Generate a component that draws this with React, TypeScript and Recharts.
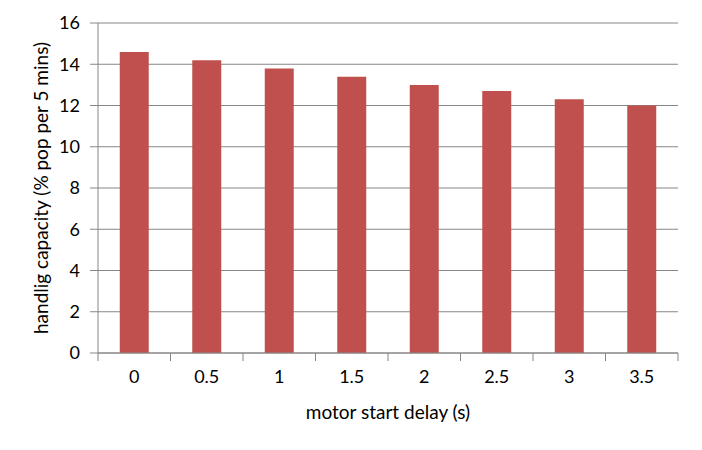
import { Bar, BarChart, CartesianGrid, XAxis, YAxis } from "recharts";

const delays = ["0", "0.5", "1", "1.5", "2", "2.5", "3", "3.5"];
const capacity = [14.6, 14.2, 13.8, 13.4, 13.0, 12.7, 12.3, 12.0];
const yTicks = [0, 2, 4, 6, 8, 10, 12, 14, 16];

const data = delays.map((d, i) => ({ delay: d, capacity: capacity[i] }));

const FONT = "Lato, 'Open Sans', sans-serif";
const AXIS = "#868686";
const BAND = (678 - 98) / delays.length;

function XTick(props: any) {
  const { x, y, payload, index } = props;
  const left = x - BAND / 2;
  return (
    <g>
      <line x1={left} y1={y - 8} x2={left} y2={y} stroke={AXIS} strokeWidth={1} />
      {index === delays.length - 1 && (
        <line x1={x + BAND / 2} y1={y - 8} x2={x + BAND / 2} y2={y} stroke={AXIS} strokeWidth={1} />
      )}
      <text x={x} y={y + 22} textAnchor="middle" fontSize={18} fill="#000" fontFamily={FONT}>
        {payload.value}
      </text>
    </g>
  );
}

function YLabel(props: any) {
  const vb = props.viewBox;
  const cy = vb.y + vb.height / 2;
  return (
    <text
      x={40}
      y={cy}
      transform={`rotate(-90 40 ${cy})`}
      textAnchor="middle"
      dominantBaseline="central"
      fontSize={19}
      fill="#000"
      fontFamily={FONT}
    >
      handlig capacity (% pop per 5 mins)
    </text>
  );
}

function XLabel(props: any) {
  const vb = props.viewBox;
  return (
    <text
      x={vb.x + vb.width / 2}
      y={411}
      textAnchor="middle"
      dominantBaseline="central"
      fontSize={19}
      fill="#000"
      fontFamily={FONT}
    >
      motor start delay (s)
    </text>
  );
}

export default function App() {
  return (
    <div style={{ position: "absolute", left: 0, top: 0, background: "#fff" }}>
      <BarChart
        width={702}
        height={450}
        data={data}
        margin={{ top: 23, right: 24, left: 0, bottom: 0 }}
        barCategoryGap="30%"
      >
        <CartesianGrid vertical={false} stroke={AXIS} strokeWidth={1} />
        <XAxis
          dataKey="delay"
          height={97}
          stroke={AXIS}
          tickLine={false}
          tick={<XTick />}
          interval={0}
          label={<XLabel />}
        />
        <YAxis
          width={98}
          domain={[0, 16]}
          ticks={yTicks}
          stroke={AXIS}
          tickSize={8}
          tickMargin={10}
          tick={{ fontSize: 18, fill: "#000", fontFamily: FONT }}
          label={<YLabel />}
        />
        <Bar dataKey="capacity" fill="#C0504D" isAnimationActive={false} />
      </BarChart>
    </div>
  );
}
